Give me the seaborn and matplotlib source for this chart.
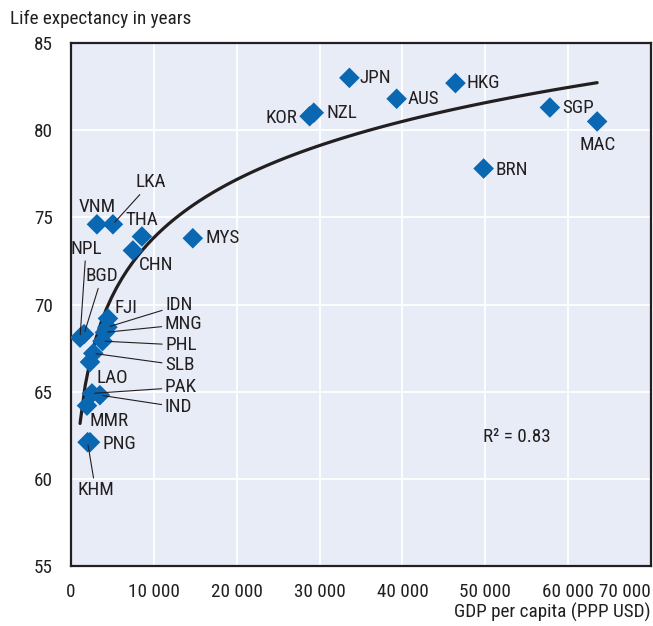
import numpy as np
import pandas as pd
import matplotlib
matplotlib.use("Agg")
import matplotlib.pyplot as plt
from matplotlib import font_manager
import seaborn as sns

# Countries, GDP per capita (PPP USD) and life expectancy (years)
countries = ["JPN", "AUS", "HKG", "KOR", "NZL", "SGP", "MAC", "BRN", "MYS",
             "VNM", "LKA", "THA", "CHN", "NPL", "BGD", "FJI", "IDN", "MNG",
             "PHL", "SLB", "LAO", "PAK", "IND", "MMR", "PNG", "KHM"]
gdp_per_capita = [33600, 39300, 46400, 28800, 29300, 57800, 63500, 49800, 14700,
                  3130, 5060, 8560, 7470, 1090, 1570, 4460, 4400, 4100,
                  3800, 2690, 2290, 2530, 3490, 1930, 2290, 2000]
life_expectancy = [83.0, 81.8, 82.7, 80.8, 81.0, 81.3, 80.5, 77.8, 73.8,
                   74.6, 74.6, 73.9, 73.1, 68.1, 68.3, 69.2, 68.7, 68.4,
                   67.9, 67.2, 66.7, 64.9, 64.8, 64.2, 62.1, 62.1]
r_squared = 0.83

x_ticks = [0, 10000, 20000, 30000, 40000, 50000, 60000, 70000]
x_tick_labels = ["0", "10 000", "20 000", "30 000", "40 000", "50 000", "60 000", "70 000"]
y_ticks = [55, 60, 65, 70, 75, 80, 85]

# Label placement: offset in pixels from the marker, alignment, leader line
label_layout = {
    "JPN": ((10, 0), "left", False),
    "AUS": ((11, 0), "left", False),
    "HKG": ((11, 0), "left", False),
    "KOR": ((-12, -2), "right", False),
    "NZL": ((13, 0), "left", False),
    "SGP": ((12, 0), "left", False),
    "MAC": ((0, -24), "center", False),
    "BRN": ((12, -1), "left", False),
    "MYS": ((13, 0), "left", False),
    "VNM": ((0, 17), "center", False),
    "LKA": ((38, 42), "center", True),
    "THA": ((0, 17), "center", False),
    "CHN": ((23, -15), "center", False),
    "NPL": ((6, 89), "center", True),
    "BGD": ((18, 58), "center", True),
    "FJI": ((18, 10), "center", False),
    "IDN": ((58, 22), "left", True),
    "MNG": ((60, 8), "left", True),
    "PHL": ((63, -4), "left", True),
    "SLB": ((72, -12), "left", True),
    "LAO": ((7, -16), "left", False),
    "PAK": ((73, 6), "left", True),
    "IND": ((65, -12), "left", True),
    "MMR": ((3, -15), "left", False),
    "PNG": ((13, -2), "left", False),
    "KHM": ((8, -48), "center", True),
}

df = pd.DataFrame({"country": countries, "gdp": gdp_per_capita, "life": life_expectancy})

sns.set_theme(style="white")

# Prefer a narrow sans-serif face if one is installed
installed = {(f.name, f.stretch) for f in font_manager.fontManager.ttflist}
installed_names = {n for n, _ in installed}
font_family, font_stretch, font_size = "Roboto", "normal", 12.5
for fam in ["Liberation Sans Narrow", "Arial Narrow", "Roboto Condensed",
            "Open Sans Condensed", "Noto Sans Condensed"]:
    if fam in installed_names:
        font_family, font_stretch, font_size = fam, "normal", 13.8
        break
else:
    for name, stretch in installed:
        if name in ("DejaVu Sans", "Noto Sans", "Open Sans") and stretch in ("condensed", "semi-condensed"):
            font_family, font_stretch, font_size = name, "condensed", 13
            break
plt.rcParams["font.family"] = [font_family, "DejaVu Sans"]
plt.rcParams["font.stretch"] = font_stretch

blue = "#0A67B2"
text_color = "#231F20"

fig = plt.figure(figsize=(6.53, 6.26), dpi=100)
ax = fig.add_axes([71 / 653, 1 - 566 / 626, 580 / 653, 523 / 626])
ax.set_facecolor("#E8ECF7")

# Logarithmic trend line
sns.regplot(data=df, x="gdp", y="life", logx=True, ci=None, scatter=False, ax=ax,
            line_kws={"color": text_color, "lw": 2.3, "zorder": 3})

sns.scatterplot(data=df, x="gdp", y="life", marker="D", s=110, color=blue,
                edgecolor="none", linewidth=0, ax=ax, zorder=4)

for name, xv, yv in zip(countries, gdp_per_capita, life_expectancy):
    (dx, dy), ha, leader = label_layout[name]
    arrow = None
    if leader:
        arrow = dict(arrowstyle="-", color=text_color, lw=0.8, shrinkA=0, shrinkB=2)
    ax.annotate(name, xy=(xv, yv), xytext=(dx, dy), textcoords="offset pixels",
                ha=ha, va="center", fontsize=font_size, color=text_color,
                arrowprops=arrow, zorder=5)

ax.text(0.71, 0.247, f"R² = {r_squared:.2f}", transform=ax.transAxes,
        fontsize=font_size, color=text_color, ha="left", va="center")

ax.set_xlim(0, 70000)
ax.set_ylim(55, 85)
ax.set_xticks(x_ticks)
ax.set_xticklabels(x_tick_labels)
ax.set_yticks(y_ticks)
ax.get_xticklabels()[-1].set_horizontalalignment("right")
ax.grid(True, color="white", lw=1.3)
ax.set_axisbelow(True)
ax.tick_params(axis="both", direction="in", length=5, width=0.9, color=text_color,
               labelsize=font_size, labelcolor=text_color)
ax.tick_params(axis="x", pad=12)
ax.tick_params(axis="y", pad=13)
for spine in ax.spines.values():
    spine.set_color(text_color)
    spine.set_linewidth(1.6)
ax.set_xlabel("")
ax.set_ylabel("")

fig.text(10 / 653, 1 - 19 / 626, "Life expectancy in years", fontsize=font_size,
         color=text_color, ha="left", va="center")
fig.text(651 / 653, 1 - 612 / 626, "GDP per capita (PPP USD)", fontsize=font_size,
         color=text_color, ha="right", va="center")

fig.savefig("out.png", dpi=100)
